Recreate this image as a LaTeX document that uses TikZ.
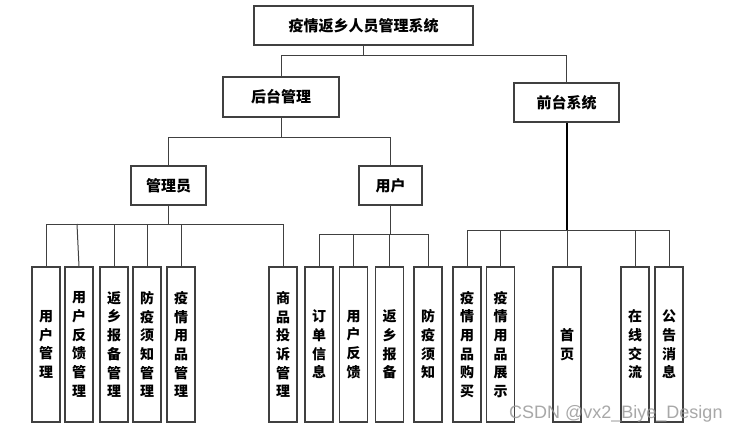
\documentclass[tikz,border=0pt]{standalone}
\usepackage{fontspec}
\setmainfont{Noto Sans CJK SC}
\newfontfamily\wmfont{Liberation Sans}
\begin{document}
\begin{tikzpicture}[x=1pt,y=-1pt,
  box/.style={draw=black!75, line width=1.1pt, inner sep=0pt, font=\fontsize{15}{18}\selectfont\bfseries},
  leaf/.style={draw=black!75, line width=1.1pt, inner sep=0pt, minimum width=28pt, minimum height=155pt, align=center, font=\fontsize{14}{18.7}\selectfont\bfseries},
  conn/.style={draw=black!75, line width=1pt},
  thickconn/.style={draw=black, line width=2pt}]
\useasboundingbox (0,0) rectangle (741,432);
\fill[white] (0,0) rectangle (741,432);
% top levels
\node[box, minimum width=219pt, minimum height=39pt] (top) at (363.5,25.5) {疫情返乡人员管理系统};
\node[box, minimum width=116pt, minimum height=40pt] (back) at (281,97) {后台管理};
\node[box, minimum width=105pt, minimum height=39pt] (front) at (566.5,102.5) {前台系统};
\node[box, minimum width=75pt, minimum height=39pt] (admin) at (168.5,185.5) {管理员};
\node[box, minimum width=63pt, minimum height=39pt] (user) at (390.5,185.5) {用户};
% admin leaves
\node[leaf] (a1) at (46,344.5) {用\\户\\管\\理};
\node[leaf] (a2) at (79,344.5) {用\\户\\反\\馈\\管\\理};
\node[leaf] (a3) at (114,344.5) {返\\乡\\报\\备\\管\\理};
\node[leaf] (a4) at (147,344.5) {防\\疫\\须\\知\\管\\理};
\node[leaf] (a5) at (181,344.5) {疫\\情\\用\\品\\管\\理};
\node[leaf] (a6) at (283,344.5) {商\\品\\投\\诉\\管\\理};
% user leaves
\node[leaf] (u1) at (319,344.5) {订\\单\\信\\息};
\node[leaf] (u2) at (353.5,344.5) {用\\户\\反\\馈};
\node[leaf] (u3) at (389.5,344.5) {返\\乡\\报\\备};
\node[leaf] (u4) at (428,344.5) {防\\疫\\须\\知};
% front leaves
\node[leaf] (f1) at (467,344.5) {疫\\情\\用\\品\\购\\买};
\node[leaf] (f2) at (500.5,344.5) {疫\\情\\用\\品\\展\\示};
\node[leaf] (f3) at (567,344.5) {首\\页};
\node[leaf] (f4) at (635,344.5) {在\\线\\交\\流};
\node[leaf] (f5) at (669,344.5) {公\\告\\消\\息};
% bus levels
\coordinate (b0) at (0,55);
\coordinate (b1) at (0,137);
\coordinate (b2) at (0,224);
\coordinate (b3) at (0,234);
\coordinate (b4) at (0,230);
\coordinate (a2bus) at (77,224);
% top -> back/front
\draw[conn] (top.south) -- (top.south |- b0);
\draw[conn] (back.north) -- (back.north |- b0) -- (front.north |- b0) -- (front.north);
% back -> admin/user
\draw[conn] (back.south) -- (back.south |- b1);
\draw[conn] (admin.north) -- (admin.north |- b1) -- (user.north |- b1) -- (user.north);
% admin -> leaves
\draw[conn] (admin.south) -- (admin.south |- b2);
\draw[conn] (a1.north) -- (a1.north |- b2) -- (a6.north |- b2) -- (a6.north);
\draw[conn] (a2.north) -- (a2bus);
\draw[conn] (a3.north) -- (a3.north |- b2);
\draw[conn] (a4.north) -- (a4.north |- b2);
\draw[conn] (a5.north) -- (a5.north |- b2);
% user -> leaves
\draw[conn] (user.south) -- (user.south |- b3);
\draw[conn] (u1.north) -- (u1.north |- b3) -- (u4.north |- b3) -- (u4.north);
\draw[conn] (u2.north) -- (u2.north |- b3);
\draw[conn] (u3.north) -- (u3.north |- b3);
% front -> leaves
\draw[thickconn] (front.south) -- (front.south |- b4);
\draw[conn] (f1.north) -- (f1.north |- b4) -- (f5.north |- b4) -- (f5.north);
\draw[conn] (f2.north) -- (f2.north |- b4);
\draw[conn] (f3.north) -- (f3.north |- b4);
\draw[conn] (f4.north) -- (f4.north |- b4);
% watermark
\node[anchor=base west, inner sep=0pt, font=\wmfont\fontsize{18}{18}\selectfont, text=black!40, opacity=0.85] (wm) at (509,418) {CSDN @vx2\_Biye\_Design};
\end{tikzpicture}
\end{document}
